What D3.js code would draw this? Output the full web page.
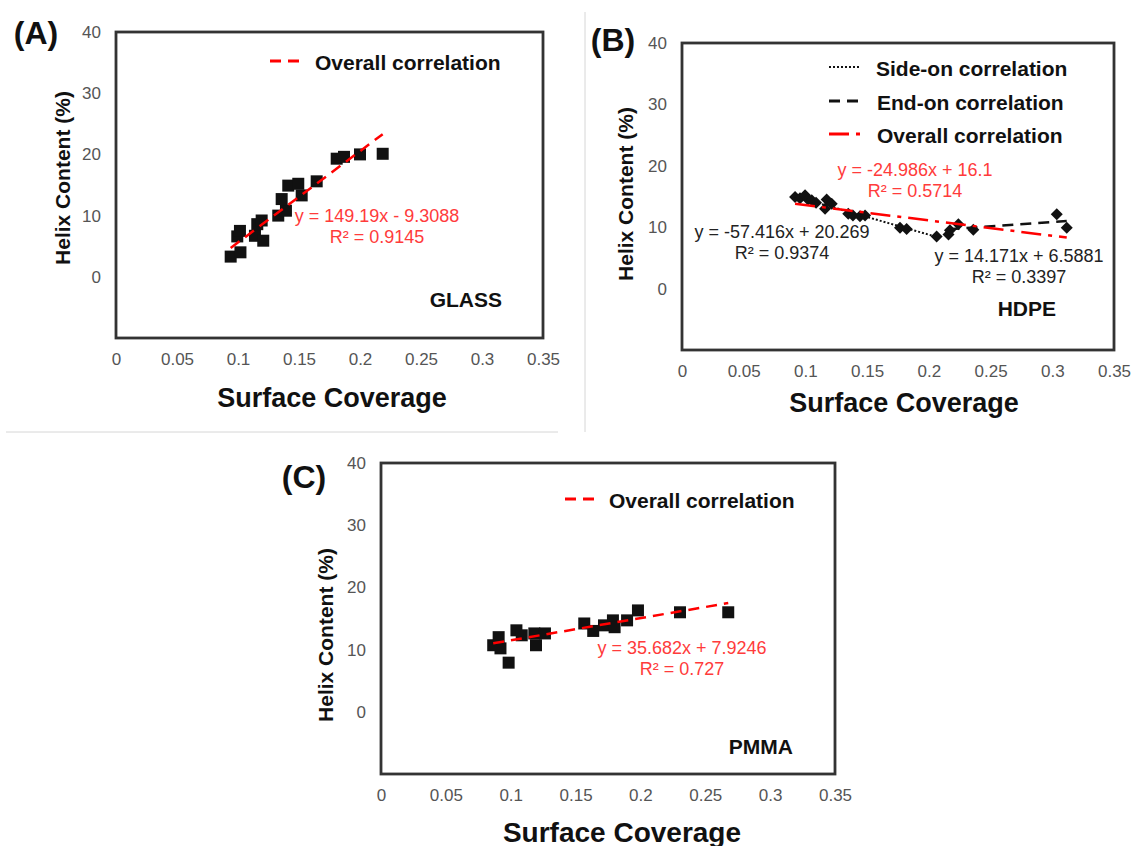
<!DOCTYPE html>
<html>
<head>
<meta charset="utf-8">
<script src="https://cdn.jsdelivr.net/npm/d3@7"></script>
<style>
  body { margin: 0; background: #fff; }
  text { font-family: Arial, "Liberation Sans", sans-serif; }
</style>
</head>
<body>
<script>
// shared axes
const xTicks = [0, 0.05, 0.1, 0.15, 0.2, 0.25, 0.3, 0.35];
const yTicks = [0, 10, 20, 30, 40];

// (A) glass
const glassX = [0.094, 0.102, 0.0994, 0.1016, 0.1139, 0.1207, 0.1158, 0.1194, 0.133, 0.1393,
                0.1358, 0.1412, 0.1494, 0.1522, 0.1645, 0.1809, 0.1869, 0.2, 0.2186];
const glassY = [3.3, 4.0, 6.6, 7.5, 6.7, 5.9, 8.6, 9.2, 10.0, 10.8,
                12.7, 14.9, 15.2, 13.3, 15.6, 19.3, 19.6, 20.0, 20.1];
const glassFit = { slope: 149.19, intercept: -9.3088, r2: 0.9145 };

// (B) HDPE, side-on and end-on groups
const hdpeSideX = [0.0916, 0.0956, 0.0997, 0.1021, 0.1051, 0.1086, 0.1172, 0.1159, 0.1213,
                   0.1347, 0.1385, 0.1442, 0.1483, 0.1766, 0.182, 0.2063];
const hdpeSideY = [14.9, 14.7, 15.2, 14.5, 14.4, 14.0, 14.5, 13.0, 13.8,
                   12.2, 11.9, 11.8, 11.9, 9.9, 9.7, 8.5];
const hdpeEndX = [0.2159, 0.2171, 0.2239, 0.236, 0.3036, 0.3117];
const hdpeEndY = [8.8, 9.5, 10.5, 9.6, 12.1, 9.9];
const hdpeSideFit = { slope: -57.416, intercept: 20.269, r2: 0.9374 };
const hdpeEndFit = { slope: 14.171, intercept: 6.5881, r2: 0.3397 };
const hdpeFit = { slope: -24.986, intercept: 16.1, r2: 0.5714 };

// (C) PMMA
const pmmaX = [0.0865, 0.0907, 0.0921, 0.0984, 0.1044, 0.1085, 0.1182, 0.1195, 0.1264,
               0.1567, 0.1636, 0.1719, 0.1788, 0.1801, 0.1897, 0.1981, 0.2305, 0.2677];
const pmmaY = [10.7, 12.0, 10.2, 7.9, 13.1, 12.3, 12.6, 10.7, 12.6,
               14.2, 13.0, 13.9, 14.7, 13.6, 14.7, 16.3, 16.0, 16.0];
const pmmaFit = { slope: 35.682, intercept: 7.9246, r2: 0.727 };

const RED = '#ff0000', RED_TEXT = '#ff3b3b', INK = '#111';

const svg = d3.select('body').append('svg')
    .attr('width', 1133)
    .attr('height', 846);

// thin separators between the top panels
svg.append('line').attr('x1', 585).attr('x2', 585).attr('y1', 12).attr('y2', 432)
    .attr('stroke', '#d6d6d6').attr('stroke-width', 1);
svg.append('line').attr('x1', 6).attr('x2', 558).attr('y1', 432).attr('y2', 432)
    .attr('stroke', '#d6d6d6').attr('stroke-width', 1);

const diamond = {
  draw(ctx, size) {
    const r = Math.sqrt(size / 2);
    ctx.moveTo(0, -r); ctx.lineTo(r, 0); ctx.lineTo(0, r); ctx.lineTo(-r, 0); ctx.closePath();
  }
};

function eqText(f) {
  const sign = f.intercept < 0 ? '-' : '+';
  return `y = ${f.slope}x ${sign} ${Math.abs(f.intercept)}`;
}

function drawPanel(p) {
  const x = d3.scaleLinear().domain([0, 0.35]).range([p.left, p.right]);
  const y = d3.scaleLinear().domain([-10, 40]).range([p.bottom, p.top]);
  const g = svg.append('g');

  g.append('g')
      .attr('transform', `translate(0,${p.bottom})`)
      .call(d3.axisBottom(x).tickValues(xTicks).tickSize(0).tickPadding(15)
          .tickFormat(d => String(+d.toFixed(2))))
      .call(a => a.select('.domain').remove())
      .attr('font-size', 17).attr('font-family', 'Arial, "Liberation Sans", sans-serif')
      .selectAll('text').attr('fill', '#555');

  g.append('g')
      .attr('transform', `translate(${p.left},0)`)
      .call(d3.axisLeft(y).tickValues(yTicks).tickSize(0).tickPadding(15))
      .call(a => a.select('.domain').remove())
      .attr('font-size', 17).attr('font-family', 'Arial, "Liberation Sans", sans-serif')
      .selectAll('text').attr('fill', '#555');

  g.append('rect')
      .attr('x', x(0)).attr('y', y(40))
      .attr('width', x(0.35) - x(0)).attr('height', y(-10) - y(40))
      .attr('fill', 'none').attr('stroke', '#333').attr('stroke-width', 2.8);

  // axis titles and panel letter
  g.append('text').attr('x', p.xTitle[0]).attr('y', p.xTitle[1])
      .attr('text-anchor', 'middle').attr('dominant-baseline', 'central')
      .attr('font-size', p.xTitleSize).attr('font-weight', 'bold').attr('fill', INK)
      .text('Surface Coverage');
  g.append('text')
      .attr('transform', `translate(${p.yTitle[0]},${p.yTitle[1]}) rotate(-90)`)
      .attr('text-anchor', 'middle').attr('dominant-baseline', 'central')
      .attr('font-size', 21).attr('font-weight', 'bold').attr('fill', INK)
      .text('Helix Content (%)');
  g.append('text').attr('x', p.letter[0]).attr('y', p.letter[1])
      .attr('text-anchor', 'middle').attr('dominant-baseline', 'central')
      .attr('font-size', 32).attr('font-weight', 'bold').attr('fill', INK)
      .text(p.name);
  g.append('text').attr('x', p.surface[0]).attr('y', p.surface[1])
      .attr('text-anchor', 'end').attr('dominant-baseline', 'central')
      .attr('font-size', 21).attr('font-weight', 'bold').attr('fill', INK)
      .text(p.surfaceName);

  // data points
  p.series.forEach(s => {
    const pts = s.xs.map((v, i) => [v, s.ys[i]]);
    g.append('g').selectAll('path')
        .data(pts)
        .join('path')
        .attr('transform', d => `translate(${x(d[0])},${y(d[1])})`)
        .attr('d', d3.symbol().type(s.shape === 'diamond' ? diamond : d3.symbolSquare).size(s.size))
        .attr('fill', INK);
  });

  // trend lines, over the points
  const line = d3.line().x(d => x(d[0])).y(d => y(d[1]));
  p.fits.forEach(f => {
    const lo = d3.min(f.xs), hi = d3.max(f.xs);
    const seg = [lo, hi].map(v => [v, f.fit.slope * v + f.fit.intercept]);
    g.append('path').datum(seg)
        .attr('d', line).attr('fill', 'none')
        .attr('stroke', f.color).attr('stroke-width', f.width)
        .attr('stroke-dasharray', f.dash);
    g.append('text').attr('x', f.label[0]).attr('y', f.label[1])
        .attr('text-anchor', 'middle').attr('dominant-baseline', 'central')
        .attr('font-size', 18).attr('fill', f.textColor)
        .text(eqText(f.fit));
    g.append('text').attr('x', f.label[0]).attr('y', f.label[1] + 21)
        .attr('text-anchor', 'middle').attr('dominant-baseline', 'central')
        .attr('font-size', 18).attr('fill', f.textColor)
        .text(`R² = ${f.fit.r2}`);
  });

  // legend
  p.legend.forEach(l => {
    g.append('line').attr('x1', l.x0).attr('x2', l.x1).attr('y1', l.y).attr('y2', l.y)
        .attr('stroke', l.color).attr('stroke-width', l.width)
        .attr('stroke-dasharray', l.dash);
    g.append('text').attr('x', l.tx).attr('y', l.y + 1)
        .attr('dominant-baseline', 'central')
        .attr('font-size', 21).attr('font-weight', 'bold').attr('fill', INK)
        .text(l.label);
  });
}

const redDash = '11,7';
const redDashDot = '20,7,4,7';

drawPanel({
  name: '(A)', surfaceName: 'GLASS',
  left: 116, right: 543, top: 32, bottom: 338,
  xTitle: [332, 398], xTitleSize: 27, yTitle: [62, 178], letter: [36, 33], surface: [502, 299],
  series: [{ xs: glassX, ys: glassY, shape: 'square', size: 144 }],
  fits: [{ xs: glassX, fit: glassFit, color: RED, width: 2.5, dash: redDash,
           textColor: RED_TEXT, label: [377, 216] }],
  legend: [{ x0: 270, x1: 300, y: 61, tx: 315, color: RED, width: 3, dash: redDash,
             label: 'Overall correlation' }]
});

drawPanel({
  name: '(B)', surfaceName: 'HDPE',
  left: 682, right: 1114, top: 43, bottom: 350,
  xTitle: [904, 403], xTitleSize: 27, yTitle: [625, 194], letter: [613, 40], surface: [1056, 308],
  series: [
    { xs: hdpeSideX, ys: hdpeSideY, shape: 'diamond', size: 72 },
    { xs: hdpeEndX, ys: hdpeEndY, shape: 'diamond', size: 72 }
  ],
  fits: [
    { xs: hdpeSideX, fit: hdpeSideFit, color: INK, width: 2, dash: '2,2',
      textColor: '#222', label: [782, 232] },
    { xs: hdpeEndX, fit: hdpeEndFit, color: INK, width: 2.5, dash: redDash,
      textColor: '#222', label: [1019, 256] },
    { xs: hdpeSideX.concat(hdpeEndX), fit: hdpeFit, color: RED, width: 2.5, dash: redDashDot,
      textColor: RED_TEXT, label: [915, 170] }
  ],
  legend: [
    { x0: 829, x1: 861, y: 67, tx: 876, color: INK, width: 2, dash: '2,2', label: 'Side-on correlation' },
    { x0: 829, x1: 861, y: 101, tx: 877, color: INK, width: 3, dash: redDash, label: 'End-on correlation' },
    { x0: 829, x1: 867, y: 134, tx: 877, color: RED, width: 3, dash: redDashDot, label: 'Overall correlation' }
  ]
});

drawPanel({
  name: '(C)', surfaceName: 'PMMA',
  left: 381, right: 835, top: 463, bottom: 774,
  xTitle: [622, 832], xTitleSize: 28, yTitle: [325, 635], letter: [304, 477], surface: [793, 746],
  series: [{ xs: pmmaX, ys: pmmaY, shape: 'square', size: 144 }],
  fits: [{ xs: pmmaX, fit: pmmaFit, color: RED, width: 2.5, dash: redDash,
           textColor: RED_TEXT, label: [682, 648] }],
  legend: [{ x0: 565, x1: 597, y: 499, tx: 609, color: RED, width: 3, dash: redDash,
             label: 'Overall correlation' }]
});
</script>
</body>
</html>
